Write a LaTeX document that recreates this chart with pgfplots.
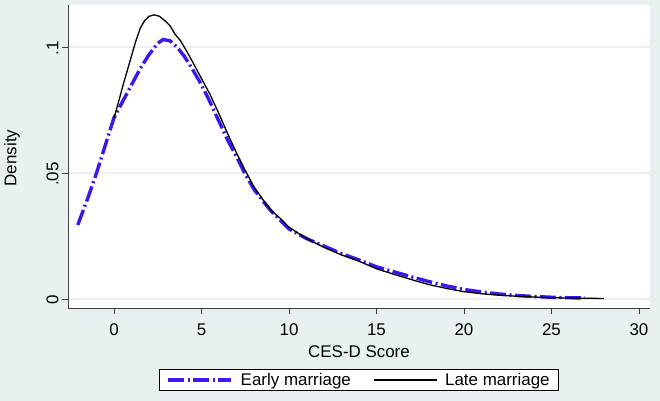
\documentclass[border=0pt]{standalone}
\usepackage{fontspec}
\setmainfont{Liberation Sans}
\usepackage{pgfplots}
\pgfplotsset{compat=1.18}
\definecolor{bgc}{RGB}{232,240,242}
\definecolor{gridc}{RGB}{233,241,243}
\definecolor{earlyc}{RGB}{62,22,238}
\newcommand{\ff}{\fontsize{17}{20}\selectfont}
\begin{document}
\begin{tikzpicture}
\fill[bgc] (0,0) rectangle (660bp,401bp);
\begin{axis}[
  at={(68bp,93bp)}, anchor=south west,
  scale only axis, width=582bp, height=303bp,
  xmin=-2.63, xmax=30.63, ymin=-0.00357, ymax=0.1167,
  axis background/.style={fill=white},
  axis x line*=bottom, axis y line*=left,
  axis line style={black!75, line width=0.9bp},
  tick align=outside, major tick length=6bp,
  tick style={black!75, line width=0.9bp},
  xtick={0,5,10,15,20,25,30}, xticklabels={0,5,10,15,20,25,30},
  ytick={0,0.05,0.1}, yticklabels={0,.05,.1},
  ymajorgrids, major grid style={gridc, line width=1.6bp},
  every tick label/.append style={font=\ff},
  yticklabel style={rotate=90, anchor=south, xshift=-1bp},
  xticklabel style={yshift=-6bp},
  every axis x label/.style={at={(axis description cs:0.5,-0.145)}, anchor=center, font=\ff},
  every axis y label/.style={at={(axis description cs:-0.0962,0.495)}, rotate=90, anchor=center, font=\ff},
  xlabel={CES-D Score}, ylabel={Density},
  legend columns=2,
  legend style={at={(axis description cs:0.5,-0.2376)}, anchor=center, draw=black, fill=white, line width=0.8bp, font=\ff, inner xsep=7bp, inner ysep=2bp,
    /tikz/every odd column/.append style={column sep=6bp},
    /tikz/every even column/.append style={column sep=20bp}},
  legend image code/.code={\draw[#1] (0bp,0bp) -- (63bp,0bp);},
]
\addplot[earlyc, line width=3.4bp, dash pattern=on 16bp off 3.5bp on 2bp off 3.5bp] coordinates {
(-2.07,0.0294) (-1.5,0.040) (-1,0.050) (-0.5,0.061) (0,0.072) (0.5,0.0785) (1,0.085) (1.5,0.0915) (2,0.097) (2.5,0.1015) (2.8,0.1030) (3.2,0.1025) (3.6,0.1) (4,0.0965) (4.5,0.091) (5,0.085) (5.5,0.078) (6,0.0705) (6.5,0.063) (7,0.0565) (7.5,0.0495) (8,0.0435) (8.5,0.039) (9,0.0347) (10,0.0278) (11,0.024) (12,0.021) (13,0.018) (14,0.0155) (15,0.0128) (16,0.0108) (17,0.0088) (18,0.0069) (19,0.0052) (20,0.0038) (21,0.0028) (22,0.002) (23,0.0014) (24,0.001) (25,0.0007) (26,0.0005) (26.9,0.0004)
};
\addlegendentry{Early marriage}
\addplot[black, line width=1.3bp] coordinates {
(0,0.0718) (0.25,0.078) (0.5,0.0845) (0.75,0.0905) (1,0.0965) (1.25,0.1025) (1.5,0.1075) (1.75,0.1105) (2,0.1122) (2.3,0.1128) (2.6,0.1122) (2.9,0.1105) (3.2,0.1085) (3.5,0.105) (3.8,0.1025) (4.1,0.099) (4.5,0.094) (5,0.0875) (5.5,0.081) (6,0.0735) (6.5,0.0655) (7,0.058) (7.5,0.051) (8,0.0445) (8.5,0.0395) (9,0.035) (9.5,0.032) (10,0.0285) (11,0.024) (12,0.0205) (13,0.0175) (14,0.015) (15,0.012) (16,0.0098) (17,0.0077) (18,0.0057) (19,0.0042) (20,0.0029) (21,0.0021) (22,0.0015) (23,0.0011) (24,0.0008) (25,0.0005) (26,0.0004) (27,0.0003) (28,0.0002)
};
\addlegendentry{Late marriage}
\end{axis}
\pgfresetboundingbox
\useasboundingbox (0,0) rectangle (660bp,401bp);
\end{tikzpicture}
\end{document}
